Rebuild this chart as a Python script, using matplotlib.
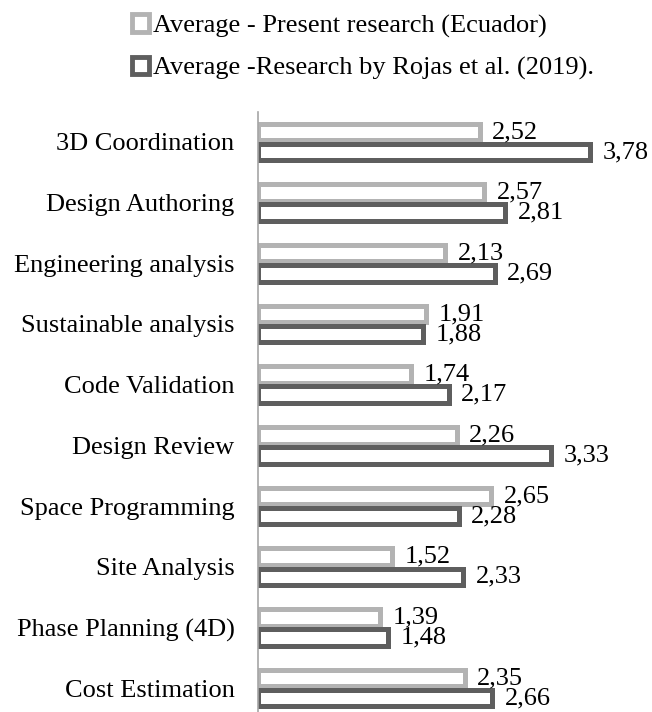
import numpy as np
import matplotlib.pyplot as plt
from matplotlib.patches import Patch

categorias = ['3D Coordination', 'Design Authoring', 'Engineering analysis',
              'Sustainable analysis', 'Code Validation', 'Design Review',
              'Space Programming', 'Site Analysis', 'Phase Planning (4D)',
              'Cost Estimation']
ecuador = [2.52, 2.57, 2.13, 1.91, 1.74, 2.26, 2.65, 1.52, 1.39, 2.35]
rojas = [3.78, 2.81, 2.69, 1.88, 2.17, 3.33, 2.28, 2.33, 1.48, 2.66]
leyendas = ['Average - Present research (Ecuador)',
            'Average -Research by Rojas et al. (2019).']

plt.rcParams['font.family'] = ['Liberation Serif', 'DejaVu Serif']
fs = 19
claro = '#b3b3b3'
oscuro = '#5e5e5e'

fig = plt.figure(figsize=(6.52, 7.12), dpi=100)
ax = fig.add_axes([258 / 652, 0, 394 / 652, (712 - 112) / 712])

y = np.arange(len(categorias))
alto = 0.27
off = 0.165
b1 = ax.barh(y - off, ecuador, height=alto, color='white', edgecolor=claro, linewidth=3.6)
b2 = ax.barh(y + off, rojas, height=alto, color='white', edgecolor=oscuro, linewidth=3.6)

# etiquetas de valor con coma decimal
for barras in (b1, b2):
    for b in barras:
        w = b.get_width()
        ax.annotate(f'{w:.2f}'.replace('.', ','), (w, b.get_y() + b.get_height() / 2),
                    xytext=(9, 0), textcoords='offset points', va='center',
                    ha='left', fontsize=fs)

ax.set_xlim(0, 4.48)
ax.set_ylim(9.395, -0.494)
ax.set_yticks(y)
ax.set_yticklabels(categorias, fontsize=fs)
ax.tick_params(axis='y', length=0, pad=17)
ax.set_xticks([])
for s in ['top', 'right', 'bottom']:
    ax.spines[s].set_visible(False)
ax.spines['left'].set_color('#a6a6a6')
ax.spines['left'].set_linewidth(1.2)

handles = [Patch(facecolor='white', edgecolor=claro, linewidth=3.5),
           Patch(facecolor='white', edgecolor=oscuro, linewidth=3.5)]
fig.legend(handles, leyendas, loc='upper left', bbox_to_anchor=(119 / 652, 1 - 1 / 712),
           frameon=False, fontsize=fs, handlelength=0.65, handleheight=0.65,
           handletextpad=0.12, borderpad=0, labelspacing=0.72)

fig.savefig('out.png', dpi=100)
